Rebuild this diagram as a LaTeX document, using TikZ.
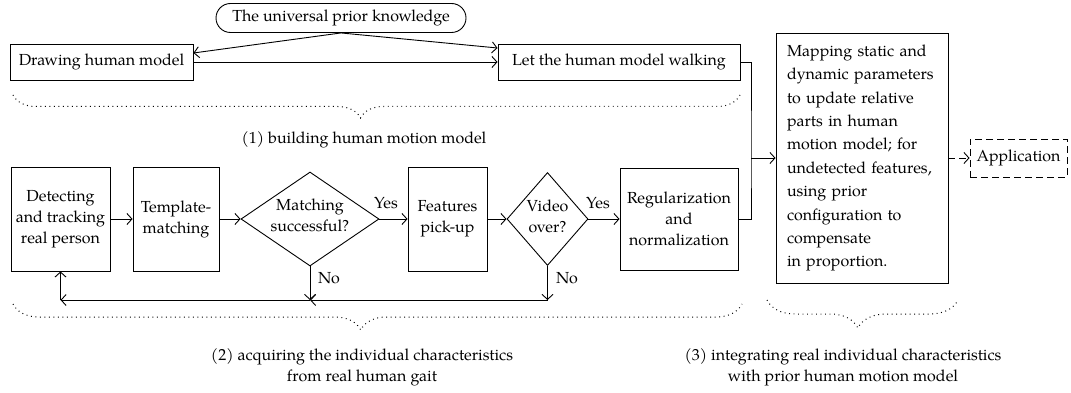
\documentclass[tikz,border=0pt]{standalone}
\usepackage{fontspec}
\setmainfont{texgyrepagella-regular.otf}
\usetikzlibrary{arrows.meta,shapes.geometric,shapes.misc,decorations.pathreplacing,calc}
\begin{document}
\begin{tikzpicture}[x=1pt,y=-1pt,
  font=\fontsize{16}{21}\selectfont,
  line width=0.9pt,
  >={Straight Barb[length=5pt,width=11pt]},
  box/.style={draw, rectangle, inner sep=0pt, align=center},
  dia/.style={draw, diamond, inner sep=0pt},
  lbl/.style={inner sep=0pt, align=center},
  brc/.style={line width=1pt, dash pattern=on 0.9pt off 3.6pt, decorate}]
\useasboundingbox (0,0) rectangle (1071,393);

% top row
\node[box, minimum width=183pt, minimum height=36pt] (drawm) at (101.5,62) {Drawing human model};
\node[draw, rounded rectangle, inner sep=0pt, minimum width=250pt, minimum height=29pt] (univ) at (341,18) {The universal prior knowledge};
\node[box, minimum width=242pt, minimum height=36pt] (walk) at (619,62) {Let the human model walking};

\draw[->] (univ.south) -- ([yshift=9pt]drawm.east);
\draw[->] (univ.south) -- ([yshift=14pt]walk.west);
\draw[->] (drawm.east) -- (walk.west);

% mapping + application
\node[draw, rectangle, inner xsep=11pt, inner ysep=0pt, text width=150pt, align=left,
      minimum height=250pt, font=\fontsize{16}{23.4}\selectfont] (map) at (862,158)
  {Mapping static and\\dynamic parameters\\to update relative\\parts in human\\motion model; for\\undetected features,\\using prior\\configuration to\\compensate\\in proportion.};
\node[box, dash pattern=on 7pt off 4pt, minimum width=97pt, minimum height=38pt] (app) at (1018.5,158) {Application};
\draw[->, dash pattern=on 7pt off 4pt] (map.east) -- (app.west);

% bottom row
\node[box, minimum width=99pt, minimum height=104pt] (det) at (60.5,219) {Detecting\\and tracking\\real person};
\node[box, minimum width=86pt, minimum height=104pt] (tmpl) at (176,219) {Template-\\matching};
\node[dia, minimum width=138pt, minimum height=94pt] (match) at (310,219) {};
\node[lbl] (matcht) at ([yshift=4pt]match.center) {Matching\\successful?};
\node[box, minimum width=79pt, minimum height=104pt] (feat) at (447.5,219) {Features\\pick-up};
\node[dia, minimum width=81pt, minimum height=93pt] (video) at (547.5,219) {};
\node[lbl] (videot) at ([yshift=3pt]video.center) {Video\\over?};
\node[box, minimum width=118pt, minimum height=102pt] (reg) at (679,219) {Regularization\\and\\normalization};

\node[lbl] (yes1) at (386,203) {Yes};
\node[lbl] (no1) at (329,278) {No};
\node[lbl] (yes2) at (598,203) {Yes};
\node[lbl] (no2) at (567,278) {No};

\draw[->] (det.east) -- (tmpl.west);
\draw[->] (tmpl.east) -- (match.west);
\draw[->] (match.east) -- (feat.west);
\draw[->] (feat.east) -- (video.west);
\draw[->] (video.east) -- (reg.west);

\coordinate (c1) at (video.south |- 0,300);
\coordinate (c2) at (match.south |- 0,300);
\coordinate (c3) at (det.south |- 0,300);
\draw[->] (video.south) -- (c1);
\draw[->] (c1) -- (c2);
\draw[->] (match.south) -- (c2);
\draw[->] (c2) -- (c3);
\draw[->] (c3) -- (det.south);

% joining line to mapping
\coordinate (jn) at (751,158);
\draw (walk.east) -| (jn) |- (reg.east);
\draw[->] (jn) -- (map.west);

% braces
\coordinate (b1a) at (13,95);
\coordinate (b1b) at (740,95);
\draw[brc, decoration={brace, mirror, amplitude=23pt, aspect=0.478}] (b1a) -- (b1b);
\node[lbl] (l1) at (364,140) {(1) building human motion model};

\coordinate (b2a) at (13,304);
\coordinate (b2b) at (742,304);
\draw[brc, decoration={brace, mirror, amplitude=26pt, aspect=0.477}] (b2a) -- (b2b);
\node[lbl] (l2) at (362,367) {(2) acquiring the individual characteristics\\from real human gait};

\coordinate (b3a) at (767,300);
\coordinate (b3b) at (958,300);
\draw[brc, decoration={brace, mirror, amplitude=28pt, aspect=0.476}] (b3a) -- (b3b);
\node[lbl] (l3) at (843,367) {(3) integrating real individual characteristics\\with prior human motion model};
\end{tikzpicture}
\end{document}
